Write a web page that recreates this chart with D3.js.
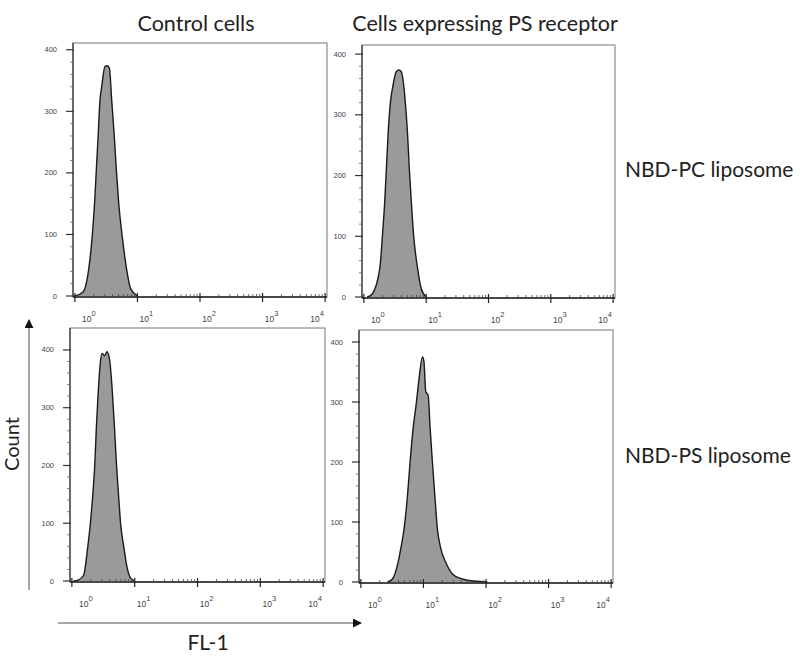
<!DOCTYPE html>
<html>
<head>
<meta charset="utf-8">
<script src="https://cdn.jsdelivr.net/npm/d3@7"></script>
<style>
  body { margin: 0; background: #fff; }
  svg { display: block; }
</style>
</head>
<body>
<div id="chart"></div>
<script>
// column / row headings
const colTitles = ["Control cells", "Cells expressing PS receptor"];
const rowTitles = ["NBD-PC liposome", "NBD-PS liposome"];
const xAxisTitle = "FL-1";
const yAxisTitle = "Count";

// tick values
const countTicks = [0, 100, 200, 300, 400];
const decadeTicks = [1, 10, 100, 1000, 10000];

// FL-1 intensity (linear) and cell count
const fl1ControlPC = [1.00, 1.34, 1.67, 1.90, 2.07, 2.21, 2.36, 2.51, 2.67, 3.03, 3.30, 3.56, 3.89, 4.25, 4.58, 5.00, 5.68, 6.68, 7.78, 10.0];
const cntControlPC = [0, 6, 45, 99, 153, 208, 262, 316, 338, 373, 374, 370, 316, 262, 208, 153, 99, 45, 12, 0];

const fl1ReceptorPC = [1.13, 1.36, 1.80, 1.99, 2.16, 2.30, 2.44, 2.67, 2.94, 3.31, 3.63, 3.98, 4.62, 5.04, 5.36, 5.77, 6.28, 7.28, 8.32, 10.0];
const cntReceptorPC = [0, 5, 47, 102, 157, 212, 266, 321, 349, 371, 374, 371, 321, 266, 212, 157, 102, 47, 14, 0];

const fl1ControlPS = [1.06, 1.28, 1.54, 1.78, 1.97, 2.15, 2.31, 2.45, 2.61, 2.85, 3.02, 3.31, 3.63, 4.02, 4.44, 4.78, 5.14, 5.53, 5.96, 6.75, 7.62, 8.63, 10.0];
const cntControlPS = [0, 2, 10, 57, 100, 149, 200, 264, 322, 380, 394, 390, 397, 380, 322, 264, 200, 149, 100, 57, 22, 5, 0];

const fl1ReceptorPS = [2.67, 3.20, 3.94, 4.35, 4.91, 5.56, 6.12, 6.84, 7.73, 8.51, 9.64, 10.2, 10.9, 11.9, 12.8, 13.9, 15.2, 16.7, 18.9, 22.7, 30.8, 50.4, 105];
const cntReceptorPS = [0, 5, 33, 56, 89, 144, 200, 256, 300, 339, 375, 367, 317, 311, 256, 200, 144, 89, 56, 33, 11, 3, 0];

const width = 800, height = 657;

// panel frames (left, top, width, height) and y maximum of each plot
const panels = [
  { x: 73,  y: 43,  w: 254, h: 254, ymax: 411, fl1: fl1ControlPC,  cnt: cntControlPC },
  { x: 362, y: 45,  w: 253, h: 253, ymax: 415, fl1: fl1ReceptorPC, cnt: cntReceptorPC },
  { x: 70,  y: 328, w: 255, h: 254, ymax: 438, fl1: fl1ControlPS,  cnt: cntControlPS },
  { x: 359, y: 330, w: 254, h: 253, ymax: 420, fl1: fl1ReceptorPS, cnt: cntReceptorPS }
];

const svg = d3.select("#chart")
  .append("svg")
  .attr("width", width)
  .attr("height", height)
  .style("font-family", "Lato, 'Open Sans', sans-serif");

const minorCounts = d3.range(0, 420, 20).filter(v => v % 100 !== 0);
const minorDecades = [];
decadeTicks.slice(0, -1).forEach(d => {
  for (let k = 2; k <= 9; k++) minorDecades.push(d * k);
});

panels.forEach(p => {
  const x = d3.scaleLog().domain([Math.pow(10, -0.03), Math.pow(10, 4.03)]).range([0, p.w]);
  const y = d3.scaleLinear().domain([0, p.ymax]).range([p.h - 1, 0]);

  const g = svg.append("g").attr("transform", `translate(${p.x},${p.y})`);

  // frame
  g.append("rect")
    .attr("width", p.w).attr("height", p.h)
    .attr("fill", "none")
    .attr("stroke", "#777")
    .attr("stroke-width", 1);

  // histogram
  const pts = p.fl1.map((v, i) => [v, p.cnt[i]]);
  const area = d3.area()
    .x(d => x(d[0])).y0(y(0)).y1(d => y(d[1]))
    .curve(d3.curveMonotoneX);
  const line = d3.line()
    .x(d => x(d[0])).y(d => y(d[1]))
    .curve(d3.curveMonotoneX);

  g.append("path").datum(pts)
    .attr("d", area)
    .attr("fill", "#9a9a9a");
  g.append("path").datum(pts)
    .attr("d", line)
    .attr("fill", "none")
    .attr("stroke", "#1a1a1a")
    .attr("stroke-width", 1.4);

  // left axis
  g.append("line")
    .attr("x1", 0).attr("x2", 0).attr("y1", 0).attr("y2", p.h)
    .attr("stroke", "#333").attr("stroke-width", 1.2);
  g.selectAll(".ymin").data(minorCounts.filter(v => v < p.ymax)).enter()
    .append("line")
    .attr("x1", -3).attr("x2", 1)
    .attr("y1", d => y(d)).attr("y2", d => y(d))
    .attr("stroke", "#666").attr("stroke-width", 0.8);
  g.selectAll(".ymaj").data(countTicks).enter()
    .append("line")
    .attr("x1", -7).attr("x2", 1)
    .attr("y1", d => y(d)).attr("y2", d => y(d))
    .attr("stroke", "#333").attr("stroke-width", 1.2);
  g.selectAll(".ylab").data(countTicks).enter()
    .append("text")
    .attr("x", -16)
    .attr("y", d => y(d) + 2.5)
    .attr("text-anchor", "end")
    .attr("font-family", "'Liberation Sans', Arial, sans-serif")
    .attr("font-size", 7.5)
    .attr("fill", "#444")
    .text(d => d);

  // bottom axis
  g.append("line")
    .attr("x1", 0).attr("x2", p.w).attr("y1", p.h).attr("y2", p.h)
    .attr("stroke", "#222").attr("stroke-width", 1.4);
  g.selectAll(".xmin").data(minorDecades).enter()
    .append("line")
    .attr("x1", d => x(d)).attr("x2", d => x(d))
    .attr("y1", p.h - 3).attr("y2", p.h + 1)
    .attr("stroke", "#444").attr("stroke-width", 0.8);
  g.selectAll(".xmaj").data(decadeTicks).enter()
    .append("line")
    .attr("x1", d => x(d)).attr("x2", d => x(d))
    .attr("y1", p.h - 4).attr("y2", p.h + 5)
    .attr("stroke", "#222").attr("stroke-width", 1.2);

  const last = decadeTicks.length - 1;
  const xl = g.selectAll(".xlab").data(decadeTicks).enter()
    .append("text")
    .attr("x", (d, i) => x(d) + (i === 0 ? 14 : i === last ? -8 : 9))
    .attr("y", p.h + 25)
    .attr("text-anchor", "middle")
    .attr("font-family", "'Liberation Sans', Arial, sans-serif")
    .attr("font-size", 8.5)
    .attr("fill", "#444");
  xl.append("tspan").text("10");
  xl.append("tspan")
    .attr("dy", -6)
    .attr("font-size", 7.5)
    .text(d => Math.round(Math.log10(d)));
});

// column titles
const colCenters = [196, 485];
svg.selectAll(".ctitle").data(colTitles).enter()
  .append("text")
  .attr("x", (d, i) => colCenters[i])
  .attr("y", 31)
  .attr("text-anchor", "middle")
  .attr("font-size", 21.5)
  .attr("fill", "#222")
  .text(d => d);

// row titles
const rowBaselines = [177, 463];
svg.selectAll(".rtitle").data(rowTitles).enter()
  .append("text")
  .attr("x", 625)
  .attr("y", (d, i) => rowBaselines[i])
  .attr("font-size", 21)
  .attr("fill", "#222")
  .text(d => d);

// axis arrows
const defs = svg.append("defs");
defs.append("marker")
  .attr("id", "arrow")
  .attr("viewBox", "0 0 10 10")
  .attr("refX", 9).attr("refY", 5)
  .attr("markerWidth", 6).attr("markerHeight", 6)
  .attr("orient", "auto")
  .append("path")
  .attr("d", "M0,0L10,5L0,10Z")
  .attr("fill", "#111");

svg.append("line")
  .attr("x1", 29).attr("y1", 590).attr("x2", 29).attr("y2", 320)
  .attr("stroke", "#888").attr("stroke-width", 1.5)
  .attr("marker-end", "url(#arrow)");
svg.append("line")
  .attr("x1", 58).attr("y1", 623).attr("x2", 361).attr("y2", 623)
  .attr("stroke", "#888").attr("stroke-width", 1.5)
  .attr("marker-end", "url(#arrow)");

svg.append("text")
  .attr("transform", "translate(19,444) rotate(-90)")
  .attr("text-anchor", "middle")
  .attr("font-size", 20)
  .attr("fill", "#222")
  .text(yAxisTitle);

svg.append("text")
  .attr("x", 208)
  .attr("y", 650)
  .attr("text-anchor", "middle")
  .attr("font-size", 21)
  .attr("fill", "#222")
  .text(xAxisTitle);
</script>
</body>
</html>
